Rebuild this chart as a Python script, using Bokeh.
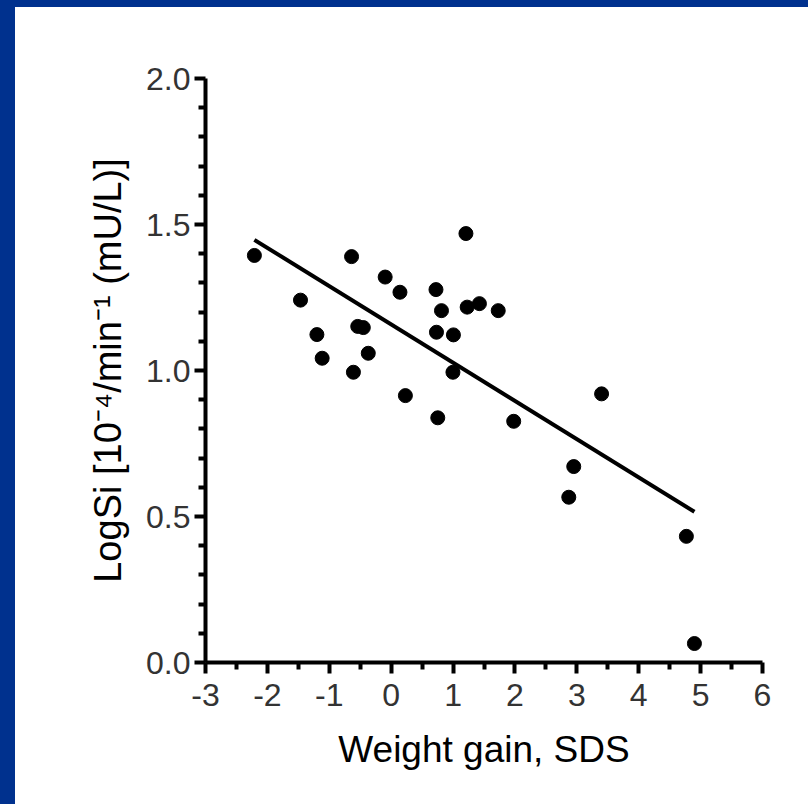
from bokeh.plotting import figure
from bokeh.models import Range1d, FixedTicker, Div, ColumnDataSource
from bokeh.layouts import column, row
from bokeh.embed import file_html
from bokeh.resources import INLINE

# ---- data ----
weight_gain_sds = [-2.21, -1.465, -1.20, -1.115, -0.64, -0.61, -0.54, -0.45, -0.37,
                   -0.097, 0.142, 0.23, 0.724, 0.732, 0.753, 0.813, 1.006, 0.998,
                   1.208, 1.228, 1.426, 1.73, 1.98, 2.87, 2.95, 3.40, 4.77, 4.90]
log_si = [1.394, 1.241, 1.123, 1.042, 1.390, 0.994, 1.151, 1.147, 1.059,
          1.320, 1.268, 0.914, 1.277, 1.131, 0.838, 1.205, 1.122, 0.994,
          1.469, 1.217, 1.229, 1.205, 0.826, 0.566, 0.671, 0.920, 0.432, 0.065]

fit_slope = -0.131
fit_intercept = 1.158

x_ticks = [-3, -2, -1, 0, 1, 2, 3, 4, 5, 6]
x_tick_labels = ["-3", "-2", "-1", "0", "1", "2", "3", "4", "5", "6"]
x_minor = [-2.5, -1.5, -0.5, 0.5, 1.5, 2.5, 3.5, 4.5, 5.5]
y_ticks = [0.0, 0.5, 1.0, 1.5, 2.0]
y_tick_labels = ["0.0", "0.5", "1.0", "1.5", "2.0"]
y_minor = [0.1, 0.2, 0.3, 0.4, 0.6, 0.7, 0.8, 0.9, 1.1, 1.2, 1.3, 1.4,
           1.6, 1.7, 1.8, 1.9]

x_title = "Weight gain, SDS"
y_title = "LogSi [10\u207b\u2074/min\u207b\u00b9 (mU/L)]"

FONT = "Liberation Sans"
BLUE = "#00318e"

p = figure(width=793, height=797, output_backend="svg", toolbar_location=None,
           x_range=Range1d(-3, 6), y_range=Range1d(0, 2), margin=0)
p.min_border_left = 190
p.min_border_right = 46
p.min_border_top = 71
p.min_border_bottom = 142
p.background_fill_color = "white"
p.border_fill_color = "white"
p.outline_line_color = None
p.xgrid.grid_line_color = None
p.ygrid.grid_line_color = None

# regression line
fx = [min(weight_gain_sds), max(weight_gain_sds)]
fy = [fit_intercept + fit_slope * v for v in fx]
p.line(fx, fy, line_color="black", line_width=4)

src = ColumnDataSource(dict(x=weight_gain_sds, y=log_si))
p.scatter("x", "y", source=src, size=14, fill_color="black", line_color="black")

p.xaxis.ticker = FixedTicker(ticks=x_ticks, minor_ticks=x_minor)
p.yaxis.ticker = FixedTicker(ticks=y_ticks, minor_ticks=y_minor)
p.xaxis.major_label_overrides = {t: l for t, l in zip(x_ticks, x_tick_labels)}
p.yaxis.major_label_overrides = {t: l for t, l in zip(y_ticks, y_tick_labels)}

for ax in (p.xaxis, p.yaxis):
    ax.axis_line_width = 4
    ax.axis_line_color = "black"
    ax.major_tick_line_width = 4
    ax.minor_tick_line_width = 4
    ax.major_tick_line_color = "black"
    ax.minor_tick_line_color = "black"
    ax.major_tick_in = 0
    ax.minor_tick_in = 0
    ax.major_tick_out = 11
    ax.minor_tick_out = 7
    ax.major_label_text_font = FONT
    ax.major_label_text_font_size = "32px"
    ax.major_label_text_color = "#333333"
    ax.axis_label_text_font = FONT
    ax.axis_label_text_font_style = "normal"
    ax.axis_label_text_color = "black"

p.xaxis.major_label_standoff = 10
p.yaxis.major_label_standoff = 4
p.xaxis.axis_label = x_title
p.yaxis.axis_label = y_title
p.xaxis.axis_label_text_font_size = "37px"
p.yaxis.axis_label_text_font_size = "38px"
p.xaxis.axis_label_standoff = 20
p.yaxis.axis_label_standoff = 14

top = Div(text="", width=808, height=7, margin=0,
          styles={"background-color": BLUE})
left = Div(text="", width=15, height=797, margin=0,
           styles={"background-color": BLUE})
layout = column(top, row(left, p, spacing=0, margin=0), spacing=0, margin=0)

open("out.html", "w").write(file_html(layout, INLINE))
